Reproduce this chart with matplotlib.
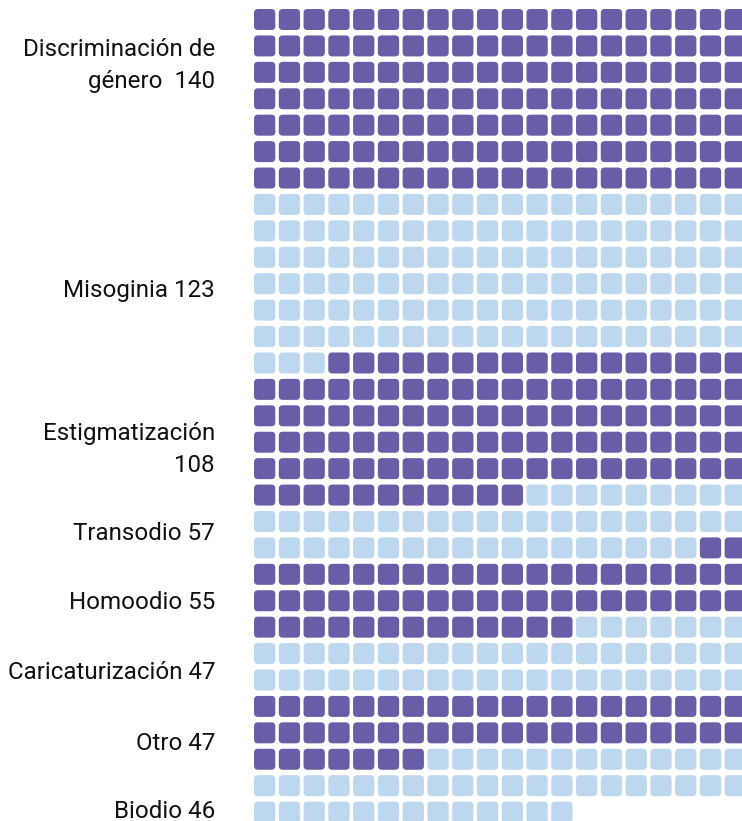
import matplotlib

matplotlib.use('Agg')
import matplotlib.pyplot as plt
from matplotlib.patches import FancyBboxPatch

plt.rcParams['font.family'] = ['Roboto', 'DejaVu Sans']

# data
labels = ['Discriminación de\ngénero  140', 'Misoginia 123', 'Estigmatización\n108',
          'Transodio 57', 'Homoodio 55', 'Caricaturización 47', 'Otro 47', 'Biodio 46']
# squares drawn per category, as counted in the picture
cells = [140, 123, 108, 47, 55, 47, 47, 46]
colors = ['#675ea7', '#bdd7ee']

# layout (pixels, figure is 742x821)
n_cols = 20
x0, y0 = 254.0, 9.0
pitch_x, pitch_y = 24.77, 26.42
cell_w, cell_h = 21.3, 21.0
radius = 4.0
label_x = 215
# baseline of the last line of each label, in grid rows from the grid top
label_rows = [3.0, 10.89, 17.51, 20.1, 22.71, 25.37, 28.05, 30.61]

fig = plt.figure(figsize=(7.42, 8.21), dpi=100)
ax = fig.add_axes([0, 0, 1, 1])
ax.set_xlim(0, 742)
ax.set_ylim(821, 0)
ax.set_axis_off()

idx = 0
for i, n in enumerate(cells):
    for _ in range(n):
        row, col = divmod(idx, n_cols)
        x = x0 + col * pitch_x
        y = y0 + row * pitch_y
        ax.add_patch(FancyBboxPatch(
            (x + radius, y + radius), cell_w - 2 * radius, cell_h - 2 * radius,
            boxstyle=f'round,pad={radius}', facecolor=colors[i % 2],
            edgecolor='none'))
        idx += 1

for label, r in zip(labels, label_rows):
    ax.text(label_x, y0 + r * pitch_y, label, ha='right', va='baseline',
            fontsize=17.4, color='#111111', linespacing=1.5,
            multialignment='right')

fig.savefig('out.png', dpi=100)
